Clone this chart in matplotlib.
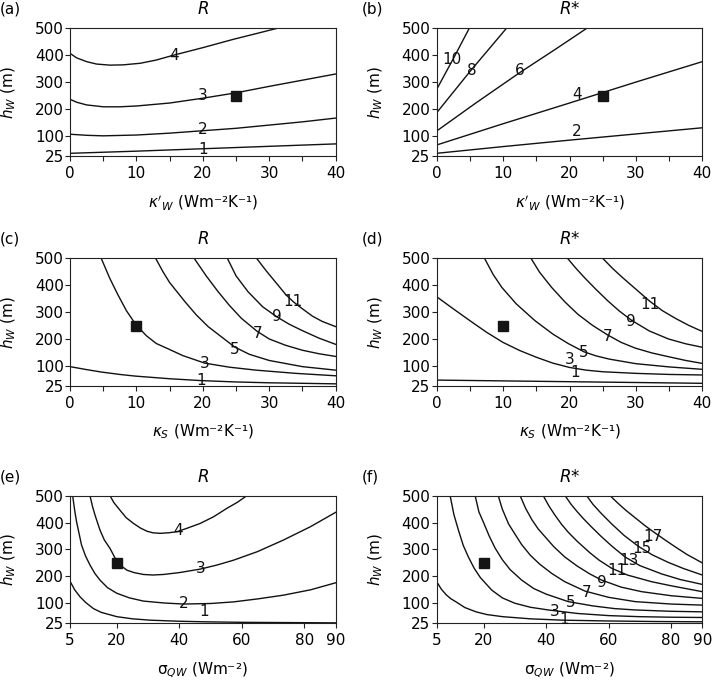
import matplotlib
matplotlib.use("Agg")
import matplotlib.pyplot as plt

plt.rcParams['font.family'] = ['DejaVu Sans']
plt.rcParams['mathtext.fontset'] = 'dejavusans'

# ---------------- data ----------------
yticks = [25, 100, 200, 300, 400, 500]
kappa_ticks = [0, 10, 20, 30, 40]
kappa_minor = [5, 15, 25, 35]
sigma_ticks = [5, 20, 40, 60, 80, 90]

# (a) R vs kappa'_W
a_levels = [1, 2, 3, 4]
a_x = [[0, 10, 20, 30, 40],
       [0, 2.5, 5, 10, 15, 20, 25, 30, 35, 40],
       [0, 1, 2.5, 5, 7.5, 10, 15, 20, 25, 30, 35, 40],
       [0, 1, 2.5, 4, 6, 8, 10.6, 13, 15.6, 20, 24.6, 28, 31.2]]
a_y = [[35, 43, 52, 61, 70],
       [106, 102, 100, 103, 110, 119, 128, 140, 152, 166],
       [236, 225, 215, 208, 208, 211, 222, 240, 260, 284, 307, 330],
       [407, 390, 376, 367, 363, 364, 370, 382, 400, 428, 459, 480, 500]]
a_label_pos = [(20, 48), (20, 122), (20, 249), (15.6, 400)]
a_point = (25, 250)

# (b) R* vs kappa'_W
b_levels = [2, 4, 6, 8, 10]
b_x = [[0, 10, 20, 30, 40],
       [0, 10, 20, 30, 40],
       [0, 6, 12.5, 18, 22.6],
       [0, 5, 10.5],
       [0, 2.5, 4.9]]
b_y = [[35, 60, 84, 107, 130],
       [66, 145, 222, 300, 376],
       [118, 224, 335, 424, 500],
       [186, 339, 500],
       [273, 387, 500]]
b_label_pos = [(21.1, 115), (21.1, 252), (12.5, 342), (5.3, 342), (2.3, 385)]
b_point = (25, 250)

# (c) R vs kappa_S
c_levels = [1, 3, 5, 7, 9, 11]
c_x = [[0, 2.5, 4.7, 7.5, 9.75, 15, 19.8, 25, 29.85, 35, 40],
       [4.7, 6, 7.2, 8.5, 9.9, 11.5, 13, 14.8, 17, 20.3, 24, 28, 34, 40],
       [12.9, 14, 15, 17.3, 19, 20.8, 22.8, 24.8, 27, 30, 35, 40],
       [18.7, 20.5, 22.3, 24, 25.8, 28.2, 30, 32.4, 35, 37.5, 40],
       [23.7, 25, 26.8, 29, 31.1, 33, 34.9, 37.5, 40],
       [28.1, 29.5, 30.9, 32.5, 33.6, 34.9, 36.5, 38, 40]]
c_y = [[97, 86, 77, 68, 62, 52, 45, 40, 37, 35, 33],
       [500, 425, 365, 305, 254, 212, 183, 163, 138, 110, 95, 84, 72, 63],
       [500, 450, 410, 339, 290, 246, 208, 170, 143, 120, 97, 84],
       [500, 435, 376, 325, 277, 228, 200, 177, 158, 145, 135],
       [500, 435, 376, 320, 283, 255, 232, 203, 180],
       [500, 455, 413, 365, 339, 314, 285, 265, 246]]
c_label_pos = [(19.8, 45), (20.3, 109), (24.8, 161), (28.2, 221), (31.1, 283), (33.6, 339)]
c_point = (10, 250)

# (d) R* vs kappa_S
d_levels = [1, 3, 5, 7, 9, 11]
d_x = [[0, 20, 40],
       [0, 2.5, 5, 7.5, 10, 12.5, 15, 17.5, 20, 22.5, 25, 30, 35, 40],
       [7.2, 8.5, 9.8, 12, 14.8, 17.5, 19.8, 22.2, 24, 26, 30, 35, 40],
       [14.2, 15.5, 17.3, 19.3, 21.3, 23.5, 25.8, 27.8, 29.9, 32.4, 34.9, 37.5, 40],
       [19.7, 21, 22.3, 24, 25.8, 27.5, 29.3, 32, 34.9, 37.5, 40],
       [25, 26.5, 28, 30, 32.1, 34, 36, 38, 40]]
d_y = [[47, 41, 35],
       [357, 312, 268, 225, 187, 157, 132, 110, 94, 84, 78, 72, 68, 66],
       [500, 440, 392, 330, 268, 218, 183, 152, 137, 125, 108, 96, 87],
       [500, 448, 392, 338, 291, 250, 214, 187, 166, 148, 134, 120, 109],
       [500, 462, 427, 384, 341, 304, 270, 230, 200, 182, 169],
       [500, 462, 428, 385, 340, 305, 276, 250, 228]]
d_label_pos = [(20.9, 76), (20.1, 122), (22.2, 150), (25.8, 210), (29.3, 265), (32.1, 328)]
d_point = (10, 250)

# (e) R vs sigma_QW
e_levels = [1, 2, 3, 4]
e_x = [[5, 6.5, 8.2, 10, 12.5, 15, 20, 25, 30.6, 40, 48, 60, 75, 90],
       [5.85, 6.5, 7.1, 8.7, 10, 11.4, 13, 14.6, 17, 20, 24, 28.5, 35, 41.3, 50, 57.3, 65, 73.3, 82, 90],
       [11.4, 12.2, 13, 14.6, 16, 17.8, 19.7, 21.5, 23.2, 25.5, 28.5, 31.5, 34.9, 40, 46.7, 52, 57.3, 65, 73.3, 82, 90],
       [17.8, 19, 21, 23, 25.3, 27.5, 29.6, 31.5, 33.8, 36.5, 39.2, 42, 46.7, 51, 55.2, 58.5, 61.6]]
e_y = [[182, 150, 124, 103, 80, 66, 50, 42, 37, 33, 31, 29, 28, 27],
       [500, 445, 403, 316, 275, 242, 210, 186, 158, 137, 120, 108, 101, 97, 99, 105, 116, 130, 150, 176],
       [500, 460, 428, 372, 335, 304, 262, 238, 223, 214, 207, 205, 207, 214, 227, 242, 260, 292, 335, 385, 438],
       [500, 475, 446, 418, 397, 380, 368, 362, 360, 362, 366, 377, 397, 422, 453, 475, 500]]
e_label_pos = [(47.8, 68), (41.3, 98), (46.7, 229), (39.7, 372)]
e_point = (20, 250)

# (f) R* vs sigma_QW
f_levels = [1, 3, 5, 7, 9, 11, 13, 15, 17]
f_x = [[5, 6.5, 8, 9.5, 11.2, 14, 17.6, 21, 26.1, 35, 45.3, 60, 75, 90],
       [9.3, 10.5, 12, 13.5, 15.1, 17, 19, 22.6, 26, 30, 35, 40.7, 50, 60, 70, 80, 90],
       [17.3, 18.5, 20, 21.8, 23.7, 26, 28.5, 32.2, 36, 40, 47.1, 55, 62, 68.5, 80, 90],
       [24.7, 26, 28, 30, 32.2, 35, 38, 41.8, 46, 52.5, 60, 68.5, 80, 90],
       [31.7, 33.5, 35.5, 37.5, 39.7, 42.5, 46, 50, 54, 57.8, 64, 70.6, 80, 90],
       [39.1, 41, 43, 45, 47.1, 50, 54, 57, 61, 66, 73.8, 80, 90],
       [46.1, 48, 50, 52, 54.6, 57.5, 61, 65.3, 70, 77, 83, 90],
       [53, 55, 57.5, 61, 65, 69.5, 74, 79.1, 84, 90],
       [60.5, 63, 65.5, 68.5, 71.5, 74.3, 78, 81.3, 85, 90]]
f_y = [[180, 152, 132, 117, 105, 84, 68, 58, 50, 42, 37, 34, 32, 31],
       [500, 430, 370, 315, 273, 230, 195, 149, 120, 100, 85, 75, 62, 54, 50, 48, 47],
       [500, 440, 400, 350, 305, 262, 225, 186, 155, 134, 106, 90, 80, 75, 70, 68],
       [500, 450, 395, 358, 318, 278, 245, 211, 180, 145, 122, 106, 97, 93],
       [500, 452, 410, 376, 347, 310, 272, 238, 209, 186, 160, 143, 128, 118],
       [500, 460, 425, 393, 364, 330, 288, 260, 230, 205, 180, 165, 143],
       [500, 468, 440, 414, 383, 350, 313, 272, 240, 209, 188, 170],
       [500, 468, 436, 395, 352, 312, 280, 252, 229, 205],
       [500, 472, 446, 418, 390, 366, 336, 310, 282, 250]]
f_label_pos = [(45.9, 40), (42.9, 68), (48, 102), (53, 139), (57.8, 176),
               (62.6, 220), (66.6, 260), (70.8, 304), (74.3, 347)]
f_point = (20, 250)

# ---------------- figure ----------------
W, H = 715, 680
fig = plt.figure(figsize=(W / 100, H / 100), dpi=100)

col_left = [70, 436.7]
row_top = [28.3, 258.3, 495.7]
ax_w, ax_h = 265.6, 127.7

kap_lab_w = r"$\kappa'_W$ (Wm⁻²K⁻¹)"
kap_lab_s = r"$\kappa_S$ (Wm⁻²K⁻¹)"
sig_lab = r"σ$_{QW}$ (Wm⁻²)"

panels = [
    ("(a)", r"$R$", kap_lab_w, (0, 40), a_x, a_y, a_levels, a_label_pos, a_point),
    ("(b)", r"$R$*", kap_lab_w, (0, 40), b_x, b_y, b_levels, b_label_pos, b_point),
    ("(c)", r"$R$", kap_lab_s, (0, 40), c_x, c_y, c_levels, c_label_pos, c_point),
    ("(d)", r"$R$*", kap_lab_s, (0, 40), d_x, d_y, d_levels, d_label_pos, d_point),
    ("(e)", r"$R$", sig_lab, (5, 90), e_x, e_y, e_levels, e_label_pos, e_point),
    ("(f)", r"$R$*", sig_lab, (5, 90), f_x, f_y, f_levels, f_label_pos, f_point),
]

FS = 11
line_col = '#111111'
for i, (letter, title, xlabel, xlim, xs, ys, levels, lpos, pt) in enumerate(panels):
    r, c = divmod(i, 2)
    left = col_left[c] / W
    bottom = (H - row_top[r] - ax_h) / H
    ax = fig.add_axes([left, bottom, ax_w / W, ax_h / H])

    for cx, cy in zip(xs, ys):
        ax.plot(cx, cy, color=line_col, lw=1.0, solid_joinstyle='round')
    for lev, (lx, ly) in zip(levels, lpos):
        ax.text(lx, ly, str(lev), ha='center', va='center', fontsize=FS, color='#111111')
    ax.plot([pt[0]], [pt[1]], marker='s', ms=7.5, color='#151515', mec='#151515',
            linestyle='none', zorder=5)

    ax.set_xlim(*xlim)
    ax.set_ylim(25, 500)
    ax.set_yticks(yticks)
    if xlim == (0, 40):
        ax.set_xticks(kappa_ticks)
        ax.set_xticks(kappa_minor, minor=True)
    else:
        ax.set_xticks(sigma_ticks)
    ax.tick_params(which='both', direction='out', length=3.5, width=0.8,
                   labelsize=FS, top=False, right=False, color='#222222')
    ax.tick_params(axis='x', pad=3.5)
    ax.tick_params(axis='y', pad=1.0)
    for s in ax.spines.values():
        s.set_linewidth(0.8)
        s.set_color('#222222')

    ax.set_xlabel(xlabel, fontsize=FS)
    ax.xaxis.set_label_coords(0.5, -0.29)
    ax.set_ylabel(r"$h_W$ (m)", fontsize=FS)
    ax.yaxis.set_label_coords(-0.196, 0.5)

    ax.text(0.5, 1.15, title, transform=ax.transAxes, ha='center', va='center', fontsize=FS + 1)
    lx = -0.263 if c == 0 else -0.281
    ax.text(lx, 1.15, letter, transform=ax.transAxes, ha='left', va='center', fontsize=FS)

fig.savefig("out.png", dpi=100)
